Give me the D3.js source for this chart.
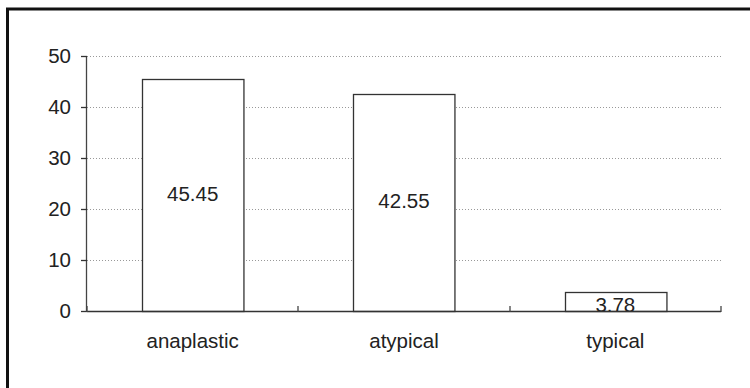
<!DOCTYPE html>
<html><head><meta charset="utf-8">
<script src="https://cdn.jsdelivr.net/npm/d3@7"></script>
<style>body{margin:0;background:#fff}svg{display:block}</style>
</head><body>
<svg id="c" width="750" height="388"></svg>
<script>
const categories = ["anaplastic", "atypical", "typical"];
const values = [45.45, 42.55, 3.78];
const valueLabels = ["45.45", "42.55", "3.78"];
const yTicks = [0, 10, 20, 30, 40, 50];

const svg = d3.select("#c");
const pL = 87, pR = 721, pT = 56, pB = 311;
const x = d3.scaleBand().domain(categories).range([pL, pR]).paddingInner(0.52).paddingOuter(0.26);
const y = d3.scaleLinear().domain([0, 50]).range([pB, pT]);
const font = "Liberation Sans, Arial, sans-serif";
const fs = 20.5;

// frame
svg.append("path").attr("d", `M7.5,400 V9 H760`).attr("fill","none").attr("stroke","#111").attr("stroke-width",3);

// gridlines
svg.append("g").selectAll("line").data(yTicks.filter(d=>d>0)).join("line")
  .attr("x1", pL).attr("x2", pR).attr("y1", d=>Math.round(y(d))+0.5).attr("y2", d=>Math.round(y(d))+0.5)
  .attr("stroke","#999").attr("stroke-width",1).attr("stroke-dasharray","1,2");

// bars
svg.append("g").selectAll("rect").data(values).join("rect")
  .attr("x", (d,i)=>Math.round(x(categories[i]))+0.5)
  .attr("y", d=>Math.round(y(d))+0.5)
  .attr("width", x.bandwidth())
  .attr("height", d=>pB-Math.round(y(d)))
  .attr("fill","#fff").attr("stroke","#333").attr("stroke-width",1.3);

// value labels
svg.append("g").selectAll("text").data(values).join("text")
  .attr("x", (d,i)=>x(categories[i])+x.bandwidth()/2)
  .attr("y", d=>(y(d)+pB)/2 + (d<10 ? 3 : -1.5))
  .attr("dy","0.35em").attr("text-anchor","middle")
  .attr("font-family", font).attr("font-size",fs).attr("fill","#222")
  .text((d,i)=>valueLabels[i]);

// y axis
const ya = svg.append("g").attr("transform",`translate(${pL},0)`)
  .call(d3.axisLeft(y).tickValues(yTicks).tickSize(6).tickPadding(10).tickFormat(d3.format("d")));
ya.select(".domain").attr("stroke","#444").attr("stroke-width",1.3).attr("d", `M-0.5,${pT} V${pB}`);
ya.selectAll(".tick line").attr("stroke","#333").attr("stroke-width",1.3);
ya.selectAll("text").attr("font-family",font).attr("font-size",fs).attr("fill","#222");

// x axis
const xa = svg.append("g").attr("transform",`translate(0,${pB})`);
xa.append("line").attr("x1",pL).attr("x2",pR).attr("y1",0.5).attr("y2",0.5).attr("stroke","#333").attr("stroke-width",1.3);
const step = (pR-pL)/categories.length;
const bounds = d3.range(categories.length+1).map(i=>pL+i*step);
xa.selectAll(".tk").data(bounds).join("line").attr("class","tk")
  .attr("x1",d=>Math.round(d)).attr("x2",d=>Math.round(d)).attr("y1",-5).attr("y2",1)
  .attr("stroke","#444").attr("stroke-width",1.3);
xa.selectAll(".cl").data(categories).join("text").attr("class","cl")
  .attr("x", d=>x(d)+x.bandwidth()/2).attr("y", 37)
  .attr("text-anchor","middle").attr("font-family",font).attr("font-size",fs).attr("fill","#222")
  .text(d=>d);
</script>
</body></html>
